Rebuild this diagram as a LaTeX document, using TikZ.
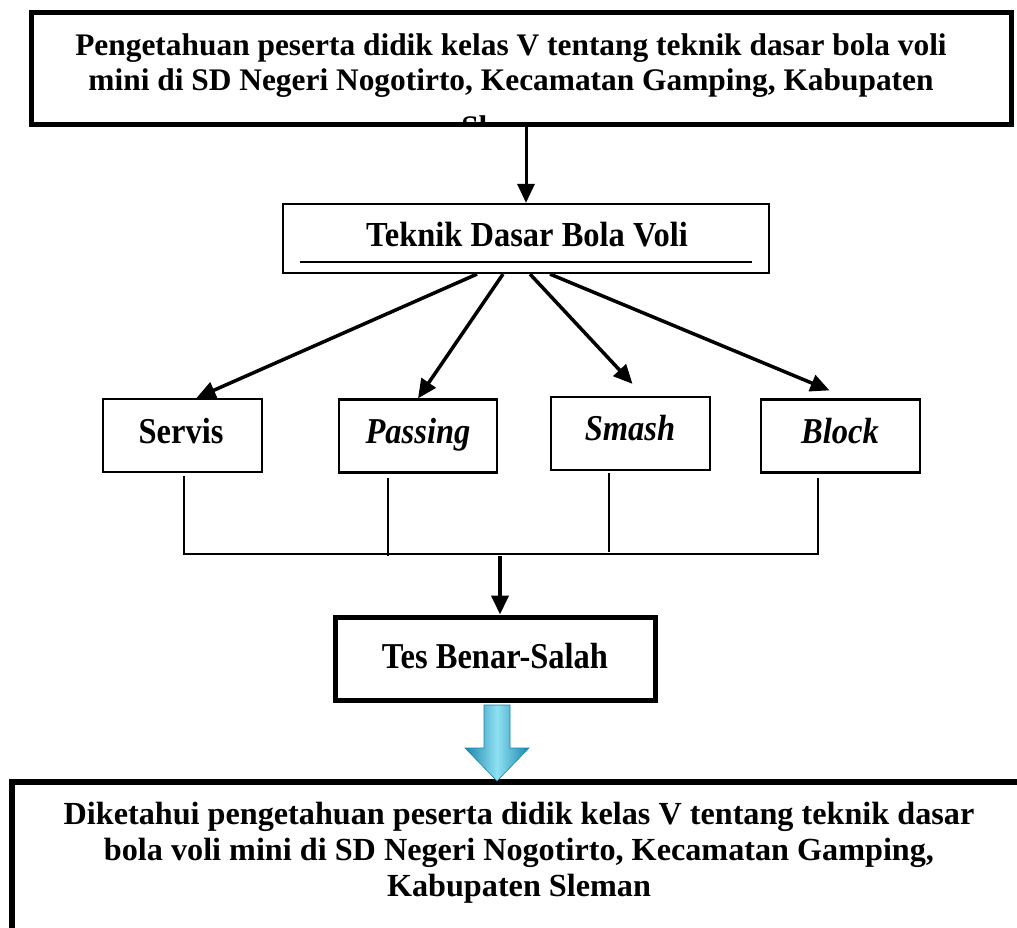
\documentclass[tikz,border=0pt]{standalone}
\usepackage{fontspec}
\usepackage{graphicx}
\setmainfont{Liberation Serif}
\usetikzlibrary{arrows.meta,calc}
\definecolor{aqualight}{HTML}{8FE0F2}
\definecolor{aquamid}{HTML}{3CB8DA}
\definecolor{aquadark}{HTML}{1A86AC}
\newcommand{\tallish}[1]{\scalebox{1}[1.12]{#1}}
\begin{document}
\begin{tikzpicture}[x=1pt,y=-1pt,
  thickbox/.style={draw, inner sep=0pt, line width=5.5pt},
  tesbox/.style={draw, inner sep=0pt, line width=5pt},
  midbox/.style={draw, inner sep=0pt, line width=2.2pt},
  txt/.style={font=\fontsize{32.5}{35}\selectfont\bfseries, align=center, inner sep=0pt},
  toptx/.style={font=\fontsize{31.4}{35}\selectfont\bfseries, align=center, inner sep=0pt},
  txtb/.style={font=\fontsize{32.2}{36}\selectfont\bfseries, align=center, inner sep=0pt},
  itx/.style={font=\fontsize{32.5}{35}\selectfont\bfseries\itshape, inner sep=0pt},
  arr/.style={-{Triangle[length=19pt,width=17pt]}, line width=3.5pt},
  joinline/.style={line width=1.5pt}]
\clip (0,0) rectangle (1017,927);
\fill[white] (0,0) rectangle (1017,927);

% top box
\begin{scope}
  \clip (31,12) rectangle (1012,122);
  \node[toptx, anchor=base] (toptxt) at (511,137)
    {Pengetahuan peserta didik kelas V tentang teknik dasar bola voli\\
     mini di SD Negeri Nogotirto, Kecamatan Gamping, Kabupaten\\[12pt]
     Sleman};
\end{scope}
\node[thickbox, minimum width=980pt, minimum height=112pt] (top) at (521.5,68.5) {};

% Teknik dasar box
\node[midbox, minimum width=486pt, minimum height=69pt] (tek) at (526,238.5) {};
\node[txt, anchor=base] (tektxt) at (527,246) {\scalebox{1}[1.08]{Teknik Dasar Bola Voli}};
\coordinate (ul1) at (300,262);
\coordinate (ul2) at (752,262);
\draw[line width=2.4pt] (ul1) -- (ul2);

\draw[arr, line width=3pt] (top.south -| tek.north) -- (tek.north);

% four boxes
\node[midbox, minimum width=159pt, minimum height=73pt] (servis) at (182.5,435.5) {};
\node[midbox, minimum width=158pt, minimum height=73pt] (passing) at (418,436) {};
\node[midbox, minimum width=159pt, minimum height=73pt] (smash) at (630.5,433.5) {};
\node[midbox, minimum width=159pt, minimum height=73pt] (block) at (840.5,436) {};
\node[txt, anchor=base] (servistxt) at (181,443) {\tallish{Servis}};
\node[itx, anchor=base] (passingtxt) at (418,443) {\tallish{Passing}};
\node[itx, anchor=base] (smashtxt) at (630,440) {\tallish{Smash}};
\node[itx, anchor=base] (blocktxt) at (840,443) {\tallish{Block}};

\draw[arr] ($(tek.south)+(-49,0)$) -- ($(servis.north)+(14,0)$);
\draw[arr] ($(tek.south)+(-23,0)$) -- (passing.north);
\draw[arr] ($(tek.south)+(4,0)$) -- ($(smash.north)+(2,-12)$);
\draw[arr] ($(tek.south)+(24,0)$) -- ($(block.north)+(-11,-8)$);

% joining lines
\coordinate (s1) at (184,476);
\coordinate (p1) at (388,478);
\coordinate (m1) at (609,473);
\coordinate (b1) at (818,478);
\coordinate (s2) at (184,554);
\coordinate (p2) at (388,556);
\coordinate (m2) at (609,552);
\coordinate (b2) at (818,554);
\coordinate (jn) at (500,556);
\draw[joinline] (s1) -- (s2) -- (b2) -- (b1);
\draw[joinline] (p1) -- (p2);
\draw[joinline] (m1) -- (m2);

% Tes box
\node[tesbox, minimum width=320pt, minimum height=83pt] (tes) at (495,658.5) {};
\node[txt, anchor=base] (testxt) at (495,668) {\tallish{Tes Benar-Salah}};
\draw[arr, line width=4pt] (jn) -- (jn |- tes.north);

% bottom box
\node[thickbox, minimum width=1040pt, minimum height=200pt] (bot) at (532,882) {};
\node[txtb, anchor=base] (bottxt) at (519,896)
  {Diketahui pengetahuan peserta didik kelas V tentang teknik dasar\\
   bola voli mini di SD Negeri Nogotirto, Kecamatan Gamping,\\
   Kabupaten Sleman};

% blue arrow
\coordinate (bt) at (497,781);
\shade[left color=aquadark, right color=aquadark, middle color=aqualight, draw=aquadark, line width=0.6pt]
  (484,705) -- (510,705) -- (510,748) -- (529,748) -- (bt) -- (465,748) -- (484,748) -- cycle;
\end{tikzpicture}
\end{document}
